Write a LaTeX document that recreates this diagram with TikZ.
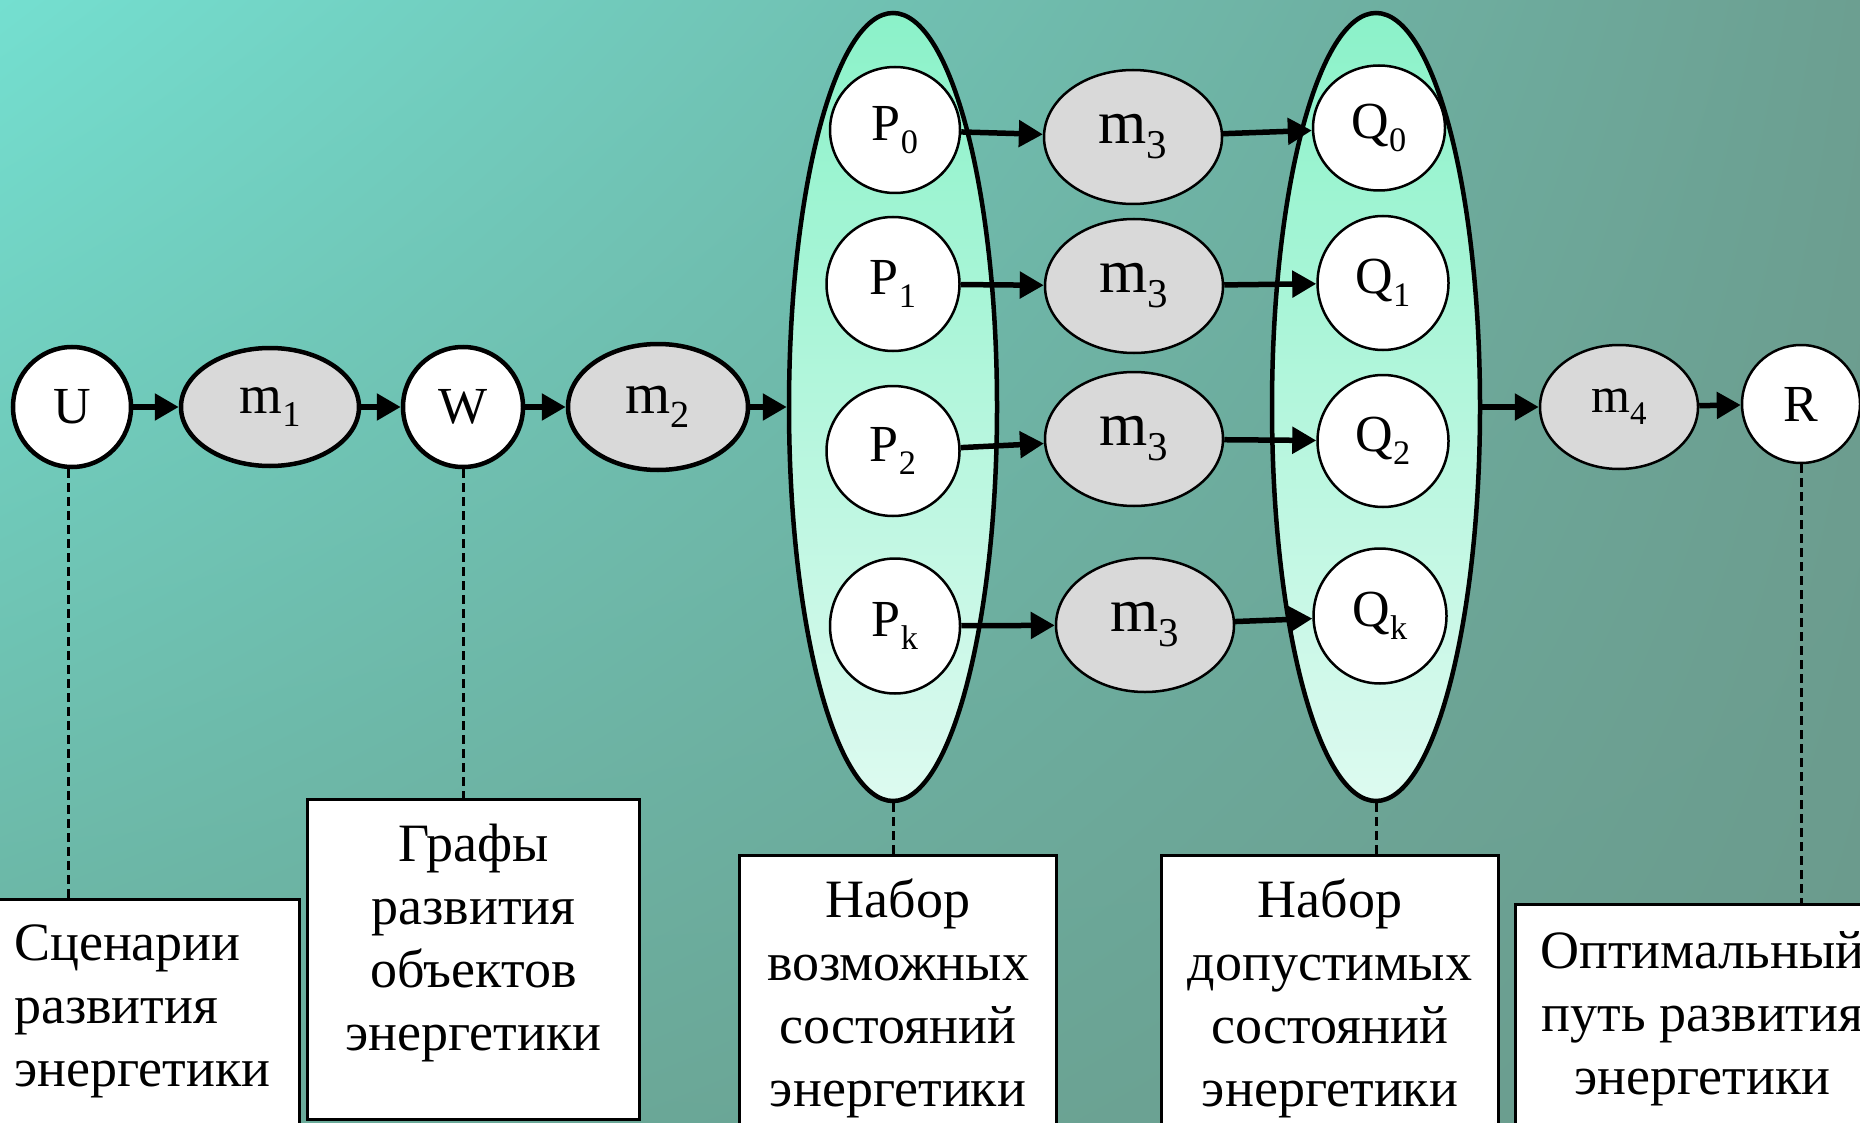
\documentclass[tikz,border=0pt]{standalone}
\usepackage{graphicx}
\usepackage{fontspec}
\setmainfont{Liberation Serif}
\usepackage{tikz}
\usetikzlibrary{arrows.meta, positioning, shapes.geometric, shadings}

\definecolor{bgTL}{HTML}{74DFD0}
\definecolor{bgTR}{HTML}{6C9F91}
\definecolor{bgBL}{HTML}{6AAE9D}
\definecolor{bgBR}{HTML}{6B9A8C}
\definecolor{opgrey}{HTML}{D9D9D9}
\definecolor{setTop}{HTML}{8BF2C9}
\definecolor{setBottom}{HTML}{DDFAF0}

% lowered index after a node letter
\newcommand{\idx}[1]{\raisebox{-0.24em}{\scalebox{0.66}{#1}}}

\begin{document}
\begin{tikzpicture}[x=1pt, y=-1pt, >={Triangle[length=24pt, width=26pt]},
    state/.style={ellipse, draw, fill=white, line width=2.5pt, inner sep=0pt,
        minimum width=132pt, minimum height=132pt, font=\fontsize{52}{60}\selectfont},
    oper/.style={ellipse, draw, fill=opgrey, line width=2.5pt, inner sep=0pt,
        minimum width=178pt, minimum height=134pt, font=\fontsize{62}{70}\selectfont},
    heavy/.style={line width=4.5pt},
    bigset/.style={ellipse, draw, line width=4.5pt, top color=setTop, bottom color=setBottom,
        minimum width=208pt, minimum height=788pt},
    flow/.style={->, line width=5.5pt},
    link/.style={line width=3pt, dash pattern=on 9pt off 5pt},
    infobox/.style={draw, fill=white, line width=3pt, minimum height=320pt, anchor=north west},
    boxtext/.style={inner sep=0pt, align=center, font=\fontsize{54}{63}\selectfont}]

    \useasboundingbox (0,0) rectangle (1860,1123);
    \clip (0,0) rectangle (1860,1123);
    \shade[upper left=bgTL, upper right=bgTR, lower left=bgBL, lower right=bgBR]
        (0,0) rectangle (1860,1123);

    % the two sets of states
    \node[bigset] (Pset) at (893,407) {};
    \node[bigset] (Qset) at (1376,407) {};

    % main chain
    \node[state, heavy, minimum width=118pt, minimum height=120pt] (U) at (72,407) {U};
    \node[oper, heavy, minimum height=118pt, font=\fontsize{55}{60}\selectfont] (m1) at (270,407) {m\idx{1}};
    \node[state, heavy, minimum width=120pt, minimum height=120pt] (W) at (463,407) {W};
    \node[oper, heavy, minimum width=180pt, minimum height=126pt, font=\fontsize{58}{64}\selectfont] (m2) at (658,407) {m\idx{2}};
    \node[oper, minimum width=158pt, minimum height=124pt, font=\fontsize{50}{60}\selectfont] (m4) at (1619,407) {m\idx{4}};
    \node[state, minimum width=118pt, minimum height=118pt] (R) at (1801,404) {R};

    % possible states
    \node[state, minimum width=130pt, minimum height=126pt] (P0) at (895,130) {P\idx{0}};
    \node[state, minimum width=133pt, minimum height=134pt] (P1) at (893,284) {P\idx{1}};
    \node[state, minimum width=133pt, minimum height=130pt] (P2) at (893,451) {P\idx{2}};
    \node[state, minimum width=130pt, minimum height=135pt] (Pk) at (895,626) {P\idx{k}};

    % model m3 on every row
    \node[oper] (m30) at (1133,137) {m\idx{3}};
    \node[oper] (m31) at (1134,286) {m\idx{3}};
    \node[oper] (m32) at (1134,439) {m\idx{3}};
    \node[oper] (m3k) at (1145,625) {m\idx{3}};

    % admissible states
    \node[state, minimum width=132pt, minimum height=125pt] (Q0) at (1379,128) {Q\idx{0}};
    \node[state, minimum width=131pt, minimum height=134pt] (Q1) at (1383,283) {Q\idx{1}};
    \node[state, minimum width=131pt, minimum height=132pt] (Q2) at (1383,441) {Q\idx{2}};
    \node[state, minimum width=133pt, minimum height=135pt] (Qk) at (1380,616) {Q\idx{k}};

    \draw[flow] (U) -- (m1);
    \draw[flow] (m1) -- (W);
    \draw[flow] (W) -- (m2);
    \draw[flow] (m2) -- (Pset.west);
    \draw[flow] (Qset.east) -- (m4);
    \draw[flow] (m4) -- (R);

    \foreach \r in {0,1,2,k} {
        \draw[flow] (P\r) -- (m3\r);
        \draw[flow] (m3\r) -- (Q\r);
    }

    % captions under the chain
    \node[infobox, minimum width=308pt] (scen) at (-10,898) {};
    \node[infobox, minimum width=332pt] (graph) at (306,798) {};
    \node[infobox, minimum width=317pt] (possible) at (738,854) {};
    \node[infobox, minimum width=337pt] (allowed) at (1160,854) {};
    \node[infobox, minimum width=400pt] (optimal) at (1514,903) {};

    \node[boxtext, align=left, anchor=north west, below right=27pt and 24pt of scen.north west]
        {Сценарии\\развития\\энергетики};
    \node[boxtext, below=26pt of graph.north] {Графы\\развития\\объектов\\энергетики};
    \node[boxtext, below=25pt of possible.north] {Набор\\возможных\\состояний\\энергетики};
    \node[boxtext, below=25pt of allowed.north] {Набор\\допустимых\\состояний\\энергетики};
    \node[boxtext, below=28pt of optimal.north, xshift=-13pt] {Оптимальный\\путь развития\\энергетики};

    \draw[link] ([xshift=-4pt]U.south) -- ([xshift=-4pt]U.south |- scen.north);
    \draw[link] (W.south) -- (W.south |- graph.north);
    \draw[link] (Pset.south) -- (Pset.south |- possible.north);
    \draw[link] (Qset.south) -- (Qset.south |- allowed.north);
    \draw[link] (R.south) -- (R.south |- optimal.north);

\end{tikzpicture}
\end{document}
